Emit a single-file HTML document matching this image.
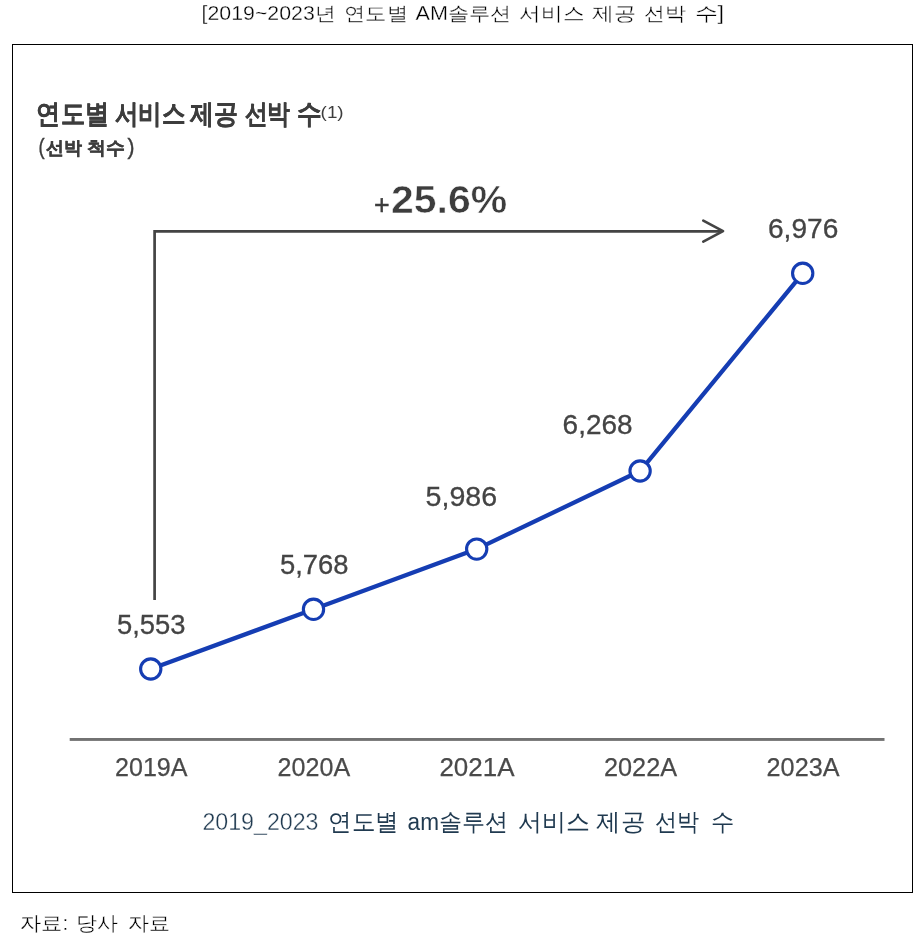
<!DOCTYPE html>
<html lang="ko">
<head>
<meta charset="utf-8">
<title>연도별 AM솔루션 서비스 제공 선박 수</title>
<style>
  html, body { margin: 0; padding: 0; background: #ffffff; }
  body { width: 919px; height: 941px; position: relative; overflow: hidden;
         font-family: "Liberation Sans", sans-serif; }
  svg { position: absolute; left: 0; top: 0; display: block; will-change: transform; }
  text { font-family: "Liberation Sans", sans-serif; }
</style>
</head>
<body>
<svg width="919" height="941" viewBox="0 0 919 941">
  <rect x="12.5" y="44.5" width="900" height="848" fill="#fff" stroke="#000" stroke-width="1"/>
  <path d="M154.6 600 V231.3 H722" fill="none" stroke="#444" stroke-width="2.7"/>
  <path d="M703.3 220.6 L723 231.1 L703.3 241.6" fill="none" stroke="#444" stroke-width="2.7" stroke-linecap="round" stroke-linejoin="round"/>
  <polyline points="150.75,669 313.5,609.3 476.7,549.1 640.1,471 802.7,273.3" fill="none" stroke="#153db3" stroke-width="4.3"/>
  <g fill="#fff" stroke="#153db3" stroke-width="3.1">
    <circle cx="150.75" cy="669" r="10.15"/>
    <circle cx="313.5" cy="609.3" r="10.15"/>
    <circle cx="476.7" cy="549.1" r="10.15"/>
    <circle cx="640.1" cy="471" r="10.15"/>
    <circle cx="802.7" cy="273.3" r="10.15"/>
  </g>
  <rect x="69.7" y="738" width="814.8" height="2.9" fill="#727272"/>
  <text id="top1" x="201.60" y="20.00" font-size="19.43" fill="#000" stroke="#fff" stroke-width="0.3" textLength="134.00" lengthAdjust="spacingAndGlyphs">[2019~2023년</text>
  <text id="top2" x="344.00" y="20.00" font-size="19.43" fill="#000" stroke="#fff" stroke-width="0.3" textLength="63.92" lengthAdjust="spacingAndGlyphs">연도별</text>
  <text id="top3" x="415.60" y="20.00" font-size="19.43" fill="#000" stroke="#fff" stroke-width="0.3" textLength="96.02" lengthAdjust="spacingAndGlyphs">AM솔루션</text>
  <text id="top4" x="519.40" y="20.00" font-size="19.43" fill="#000" stroke="#fff" stroke-width="0.3" textLength="65.01" lengthAdjust="spacingAndGlyphs">서비스</text>
  <text id="top5" x="592.40" y="20.00" font-size="19.43" fill="#000" stroke="#fff" stroke-width="0.3" textLength="43.90" lengthAdjust="spacingAndGlyphs">제공</text>
  <text id="top6" x="644.00" y="20.00" font-size="19.43" fill="#000" stroke="#fff" stroke-width="0.3" textLength="41.84" lengthAdjust="spacingAndGlyphs">선박</text>
  <text id="top7" x="694.60" y="20.00" font-size="19.43" fill="#000" stroke="#fff" stroke-width="0.3" textLength="29.51" lengthAdjust="spacingAndGlyphs">수]</text>
  <text id="tit1" x="36.40" y="123.40" font-size="27.28" font-weight="bold" fill="#3d3d3d" stroke="#3d3d3d" stroke-width="0.3" textLength="72.45" lengthAdjust="spacingAndGlyphs">연도별</text>
  <text id="tit2" x="114.60" y="123.40" font-size="27.28" font-weight="bold" fill="#3d3d3d" stroke="#3d3d3d" stroke-width="0.3" textLength="70.50" lengthAdjust="spacingAndGlyphs">서비스</text>
  <text id="tit3" x="190.40" y="123.40" font-size="27.28" font-weight="bold" fill="#3d3d3d" stroke="#3d3d3d" stroke-width="0.3" textLength="47.83" lengthAdjust="spacingAndGlyphs">제공</text>
  <text id="tit4" x="244.60" y="123.40" font-size="27.28" font-weight="bold" fill="#3d3d3d" stroke="#3d3d3d" stroke-width="0.3" textLength="45.61" lengthAdjust="spacingAndGlyphs">선박</text>
  <text id="tit5" x="296.60" y="123.40" font-size="27.28" font-weight="bold" fill="#3d3d3d" stroke="#3d3d3d" stroke-width="0.3" textLength="24.65" lengthAdjust="spacingAndGlyphs">수</text>
  <text id="sup" x="320.60" y="117.60" font-size="15.79" fill="#3d3d3d" textLength="23.07" lengthAdjust="spacingAndGlyphs">(1)</text>
  <text id="subA" x="38.60" y="154.00" font-size="22.34" fill="#3d3d3d" stroke="#3d3d3d" stroke-width="0.4" textLength="6.09" lengthAdjust="spacingAndGlyphs">(</text>
  <text id="sub1" x="46.40" y="153.60" font-size="18.25" font-weight="bold" fill="#3d3d3d" stroke="#3d3d3d" stroke-width="0.35" textLength="35.96" lengthAdjust="spacingAndGlyphs">선박</text>
  <text id="sub2" x="87.40" y="153.60" font-size="18.25" font-weight="bold" fill="#3d3d3d" stroke="#3d3d3d" stroke-width="0.35" textLength="37.88" lengthAdjust="spacingAndGlyphs">척수</text>
  <text id="subB" x="127.40" y="154.00" font-size="22.34" fill="#3d3d3d" stroke="#3d3d3d" stroke-width="0.4" textLength="6.97" lengthAdjust="spacingAndGlyphs">)</text>
  <text id="plus" x="374.00" y="214.40" font-size="28.53" fill="#3d3d3d" stroke="#3d3d3d" stroke-width="0.5" textLength="15.61" lengthAdjust="spacingAndGlyphs">+</text>
  <text id="grw" x="391.00" y="213.40" font-size="38.32" font-weight="bold" fill="#3d3d3d" stroke="#fff" stroke-width="0.5" textLength="116.11" lengthAdjust="spacingAndGlyphs">25.6%</text>
  <text id="l1" x="117.00" y="633.60" font-size="27.60" fill="#444444" stroke="#444444" stroke-width="0.3" textLength="68.55" lengthAdjust="spacingAndGlyphs">5,553</text>
  <text id="l2" x="280.00" y="574.00" font-size="27.60" fill="#444444" stroke="#444444" stroke-width="0.3" textLength="68.49" lengthAdjust="spacingAndGlyphs">5,768</text>
  <text id="l3" x="425.60" y="506.40" font-size="27.60" fill="#444444" stroke="#444444" stroke-width="0.3" textLength="71.50" lengthAdjust="spacingAndGlyphs">5,986</text>
  <text id="l4" x="562.60" y="434.40" font-size="27.60" fill="#444444" stroke="#444444" stroke-width="0.3" textLength="70.02" lengthAdjust="spacingAndGlyphs">6,268</text>
  <text id="l5" x="768.00" y="238.00" font-size="27.60" fill="#444444" stroke="#444444" stroke-width="0.3" textLength="70.25" lengthAdjust="spacingAndGlyphs">6,976</text>
  <text id="x1" x="115.00" y="776.40" font-size="26.66" fill="#4a4a4a" stroke="#4a4a4a" stroke-width="0.25" textLength="72.51" lengthAdjust="spacingAndGlyphs">2019A</text>
  <text id="x2" x="277.60" y="776.40" font-size="26.66" fill="#4a4a4a" stroke="#4a4a4a" stroke-width="0.25" textLength="72.52" lengthAdjust="spacingAndGlyphs">2020A</text>
  <text id="x3" x="439.40" y="776.40" font-size="26.66" fill="#4a4a4a" stroke="#4a4a4a" stroke-width="0.25" textLength="75.09" lengthAdjust="spacingAndGlyphs">2021A</text>
  <text id="x4" x="604.00" y="776.40" font-size="26.66" fill="#4a4a4a" stroke="#4a4a4a" stroke-width="0.25" textLength="73.07" lengthAdjust="spacingAndGlyphs">2022A</text>
  <text id="x5" x="766.60" y="776.40" font-size="26.66" fill="#4a4a4a" stroke="#4a4a4a" stroke-width="0.25" textLength="72.89" lengthAdjust="spacingAndGlyphs">2023A</text>
  <text id="cap1" x="202.40" y="830.00" font-size="23.50" fill="#203a50" stroke="#fff" stroke-width="0.35" textLength="116.12" lengthAdjust="spacingAndGlyphs">2019_2023</text>
  <text id="cap2" x="328.00" y="830.00" font-size="23.50" fill="#203a50" textLength="70.59" lengthAdjust="spacingAndGlyphs">연도별</text>
  <text id="cap3" x="407.60" y="830.00" font-size="23.50" fill="#203a50" textLength="100.54" lengthAdjust="spacingAndGlyphs">am솔루션</text>
  <text id="cap4" x="518.00" y="830.00" font-size="23.50" fill="#203a50" textLength="71.82" lengthAdjust="spacingAndGlyphs">서비스</text>
  <text id="cap5" x="596.40" y="830.00" font-size="23.50" fill="#203a50" textLength="48.71" lengthAdjust="spacingAndGlyphs">제공</text>
  <text id="cap6" x="654.60" y="830.00" font-size="23.50" fill="#203a50" textLength="44.21" lengthAdjust="spacingAndGlyphs">선박</text>
  <text id="cap7" x="710.60" y="830.00" font-size="23.50" fill="#203a50" textLength="23.30" lengthAdjust="spacingAndGlyphs">수</text>
  <text id="src1" x="20.20" y="930.40" font-size="19.56" fill="#000" stroke="#fff" stroke-width="0.3" textLength="48.17" lengthAdjust="spacingAndGlyphs">자료:</text>
  <text id="src2" x="75.60" y="930.40" font-size="19.56" fill="#000" stroke="#fff" stroke-width="0.3" textLength="41.85" lengthAdjust="spacingAndGlyphs">당사</text>
  <text id="src3" x="127.60" y="930.40" font-size="19.56" fill="#000" stroke="#fff" stroke-width="0.3" textLength="41.96" lengthAdjust="spacingAndGlyphs">자료</text>
</svg>
</body>
</html>
